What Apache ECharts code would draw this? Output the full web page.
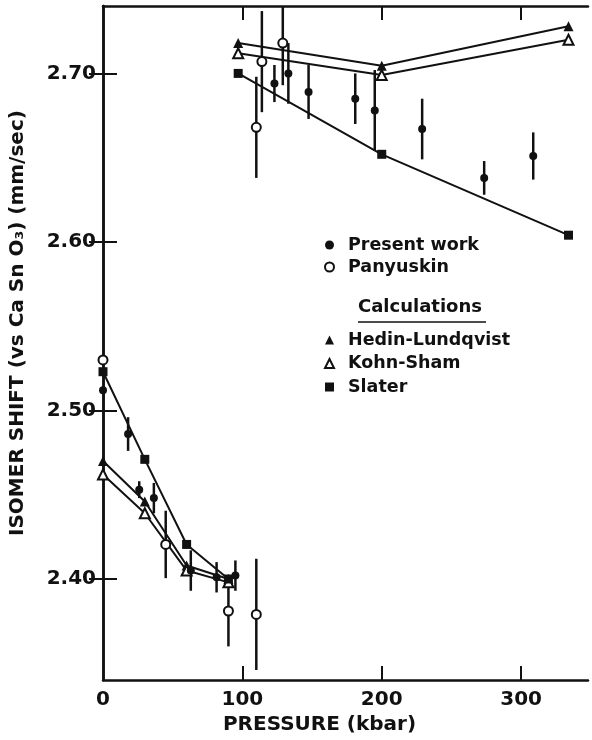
<!DOCTYPE html>
<html>
<head>
<meta charset="utf-8">
<script src="https://cdn.jsdelivr.net/npm/echarts@6/dist/echarts.min.js"></script>
<style>
html,body{margin:0;padding:0;background:#fff;}
#chart{width:592px;height:740px;}
</style>
</head>
<body>
<div id="chart"></div>
<script>
// ---- data ----
const pwX   = [0, 18, 26, 36.5, 63, 81.5, 95, 123, 133, 147.5, 181, 195, 229, 273.5, 308.7];
const pwY   = [2.512, 2.486, 2.453, 2.448, 2.405, 2.401, 2.402, 2.694, 2.700, 2.689, 2.685, 2.678, 2.667, 2.638, 2.651];
const pwErr = [0.006, 0.010, 0.005, 0.009, 0.012, 0.009, 0.009, 0.011, 0.018, 0.016, 0.015, 0.024, 0.018, 0.010, 0.014];

const pkX   = [0, 45, 90, 110, 110, 114, 129];
const pkY   = [2.530, 2.4205, 2.381, 2.379, 2.668, 2.707, 2.718];
const pkErr = [0, 0.020, 0.021, 0.033, 0.030, 0.030, 0.025];

const calcLowX  = [0, 30, 60, 90];
const hlLow     = [2.470, 2.446, 2.408, 2.400];
const ksLow     = [2.462, 2.439, 2.405, 2.398];
const slLow     = [2.523, 2.471, 2.4205, 2.400];

const calcHighX = [97, 200, 334];
const hlHigh    = [2.718, 2.7045, 2.728];
const ksHigh    = [2.712, 2.699, 2.720];
const slHigh    = [2.700, 2.652, 2.604];

const xTickLabels = [0, 100, 200, 300];
const yTickLabels = [2.40, 2.50, 2.60, 2.70];

// ---- build ----
const zip = (xs, ys) => xs.map((x, i) => [x, ys[i]]);
const zip3 = (xs, ys, es) => xs.map((x, i) => [x, ys[i], es[i]]);

const FONT = 'DejaVu Sans';
const INK = '#111';

function errRender(params, api) {
  const x = api.value(0), y = api.value(1), e = api.value(2);
  if (!e) return null;
  const p1 = api.coord([x, y + e]);
  const p2 = api.coord([x, y - e]);
  return {
    type: 'line',
    shape: {x1: p1[0], y1: p1[1], x2: p2[0], y2: p2[1]},
    style: {stroke: INK, lineWidth: 2.5}
  };
}

function calcSeries(name, data, symbol, size, open) {
  return {
    name: name, type: 'line', data: data, symbol: symbol, symbolSize: size,
    showSymbol: true, z: 3,
    lineStyle: {color: INK, width: 2},
    itemStyle: open ? {color: '#fff', borderColor: INK, borderWidth: 2, opacity: 1}
                    : {color: INK, borderColor: INK, borderWidth: 0, opacity: 1}
  };
}

const axisLineStyle = {color: INK, width: 2.5};
const labelStyle = {fontFamily: FONT, fontWeight: 'bold', fontSize: 20, color: INK};
const legendText = {fontFamily: FONT, fontWeight: 'bold', fontSize: 17.5, color: INK, padding: [0, 0, 0, 9]};

const chart = echarts.init(document.getElementById('chart'), null, {renderer: 'canvas'});
chart.setOption({
  animation: false,
  backgroundColor: '#fff',
  grid: {left: 101, right: 4, top: 6, bottom: 52, containLabel: false},
  title: {
    text: 'Calculations', left: 358, top: 298, padding: 0,
    textStyle: {fontFamily: FONT, fontWeight: 'bold', fontSize: 18, color: INK}
  },
  graphic: [{
    type: 'line', shape: {x1: 358, y1: 322, x2: 486, y2: 322},
    style: {stroke: INK, lineWidth: 1.5}
  }],
  legend: [{
    data: [{name: 'Present work', icon: 'circle'}, {name: 'Panyuskin', icon: 'circle'}],
    orient: 'vertical', left: 324, top: 236, padding: 0, itemWidth: 9, itemHeight: 9, itemGap: 4,
    selectedMode: false, textStyle: legendText
  }, {
    data: [{name: 'Hedin-Lundqvist', icon: 'triangle'}, {name: 'Kohn-Sham', icon: 'triangle'}, {name: 'Slater', icon: 'rect'}],
    orient: 'vertical', left: 324, top: 331, padding: 0, itemWidth: 9, itemHeight: 9, itemGap: 5.5,
    selectedMode: false, textStyle: legendText, lineStyle: {opacity: 0}
  }],
  xAxis: [{
    type: 'value', min: 0, max: 348, position: 'bottom',
    axisLine: {show: true, lineStyle: axisLineStyle},
    axisTick: {show: true, inside: true, length: 14, lineStyle: {color: INK, width: 2}, customValues: xTickLabels.slice(1)},
    axisLabel: Object.assign({customValues: xTickLabels, margin: 10}, labelStyle),
    splitLine: {show: false},
    name: 'PRESSURE (kbar)', nameLocation: 'middle', nameGap: 30,
    nameTextStyle: {fontFamily: FONT, fontWeight: 'bold', fontSize: 20, color: INK, padding: [0, 52, 0, 0]}
  }, {
    type: 'value', min: 0, max: 348, position: 'top',
    axisLine: {show: true, lineStyle: axisLineStyle},
    axisTick: {show: true, inside: true, length: 14, lineStyle: {color: INK, width: 2}, customValues: xTickLabels.slice(1)},
    axisLabel: {show: false}, splitLine: {show: false}
  }],
  yAxis: [{
    type: 'value', min: 2.34, max: 2.74, position: 'left',
    axisLine: {show: true, lineStyle: axisLineStyle},
    axisTick: {show: true, inside: true, length: 14, lineStyle: {color: INK, width: 2}, customValues: yTickLabels},
    axisLabel: Object.assign({customValues: yTickLabels, margin: 7, formatter: v => v.toFixed(2)}, labelStyle),
    splitLine: {show: false},
    name: 'ISOMER SHIFT (vs Ca Sn O\u2083) (mm/sec)', nameLocation: 'middle', nameGap: 75,
    nameTextStyle: {fontFamily: FONT, fontWeight: 'bold', fontSize: 20, color: INK, padding: [0, 0, 0, 40]}
  }, {
    type: 'value', min: 2.34, max: 2.74, position: 'right',
    axisLine: {show: true, lineStyle: axisLineStyle},
    axisTick: {show: true, inside: true, length: 14, lineStyle: {color: INK, width: 2}, customValues: yTickLabels},
    axisLabel: {show: false}, splitLine: {show: false}
  }],
  series: [
    {name: 'pw-err', type: 'custom', renderItem: errRender, data: zip3(pwX, pwY, pwErr), z: 1, clip: true},
    {name: 'pk-err', type: 'custom', renderItem: errRender, data: zip3(pkX, pkY, pkErr), z: 1, clip: true},
    calcSeries('Hedin-Lundqvist', zip(calcLowX, hlLow), 'triangle', 10, false),
    calcSeries('Hedin-Lundqvist', zip(calcHighX, hlHigh), 'triangle', 10, false),
    calcSeries('Kohn-Sham', zip(calcLowX, ksLow), 'triangle', 10, true),
    calcSeries('Kohn-Sham', zip(calcHighX, ksHigh), 'triangle', 10, true),
    calcSeries('Slater', zip(calcLowX, slLow), 'rect', 9, false),
    calcSeries('Slater', zip(calcHighX, slHigh), 'rect', 9, false),
    {name: 'Present work', type: 'scatter', data: zip(pwX, pwY), symbol: 'circle', symbolSize: 8, z: 4,
     itemStyle: {color: INK, opacity: 1}},
    {name: 'Panyuskin', type: 'scatter', data: zip(pkX, pkY), symbol: 'circle', symbolSize: 9, z: 4,
     itemStyle: {color: '#fff', borderColor: INK, borderWidth: 2, opacity: 1}}
  ]
});
</script>
</body>
</html>
